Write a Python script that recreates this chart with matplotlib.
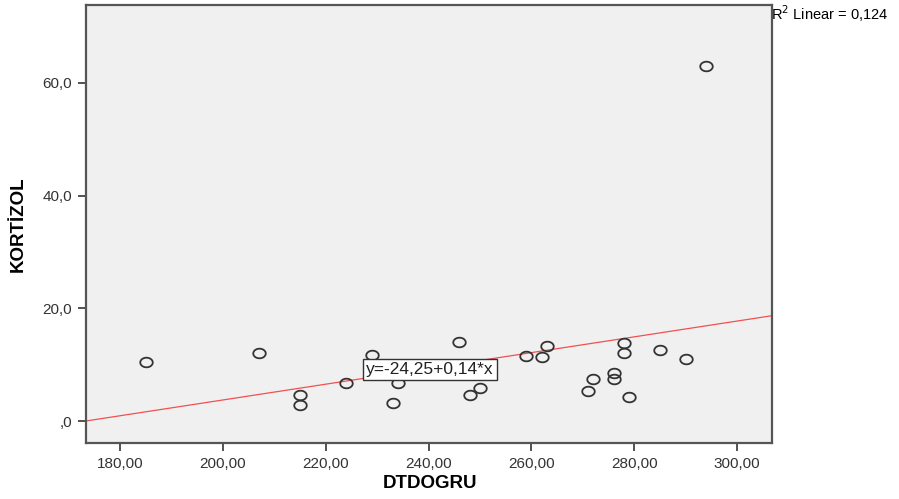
import numpy as np
import matplotlib.pyplot as plt
from matplotlib.path import Path
from matplotlib.ticker import FuncFormatter

plt.rcParams['font.family'] = ['Liberation Sans', 'DejaVu Sans']

# data
dtdogru = [185, 207, 215, 215, 224, 229, 233, 234, 243, 246, 248, 250, 259,
           262, 263, 271, 272, 276, 276, 278, 278, 279, 285, 290, 294]
kortizol = [10.5, 12.0, 4.6, 2.8, 6.8, 11.7, 3.3, 6.7, 8.6, 14.0, 4.7, 5.9, 11.5,
            11.3, 13.4, 5.4, 7.5, 8.5, 7.5, 13.9, 12.0, 4.3, 12.7, 11.0, 63.0]

intercept, slope = -24.25, 0.14
r2_text = "R$^2$ Linear = 0,124"
eq_text = "y=-24,25+0,14*x"
x_ticks = [180, 200, 220, 240, 260, 280, 300]
y_ticks = [0, 20, 40, 60]

# slightly flattened circle, like the SPSS marker
t = np.linspace(0, 2 * np.pi, 60)
ellipse = Path(np.column_stack([1.3 * np.cos(t), np.sin(t)]), closed=True)

fig = plt.figure(figsize=(8.99, 4.99), dpi=100)
ax = fig.add_axes([0.0957, 0.112, 0.7627, 0.878])
ax.set_facecolor('#f0f0f0')

ax.set_xlim(173.4, 306.7)
ax.set_ylim(-3.9, 73.8)

# fit line
xl = np.array(ax.get_xlim())
ax.plot(xl, intercept + slope * xl, color='#f05050', linewidth=0.9, zorder=2)

ax.plot(dtdogru, kortizol, linestyle='none', marker=ellipse, markersize=9,
        markerfacecolor='none', markeredgecolor='#333333', markeredgewidth=1.3,
        zorder=3)

ax.text(240.3, 9.2, eq_text, ha='center', va='center', fontsize=12.5, zorder=4,
        color='#222222',
        bbox=dict(boxstyle='square,pad=0.18', facecolor='white',
                  edgecolor='#333333', linewidth=1.0))

fig.text(0.858, 0.972, r2_text, ha='left', va='center', fontsize=10.5)

ax.set_xticks(x_ticks)
ax.set_yticks(y_ticks)
ax.xaxis.set_major_formatter(FuncFormatter(lambda v, p: f"{v:.2f}".replace('.', ',')))
ax.yaxis.set_major_formatter(FuncFormatter(
    lambda v, p: ',0' if v == 0 else f"{v:.1f}".replace('.', ',')))
ax.tick_params(direction='out', length=6, width=1.3, color='#444444',
               labelsize=11, labelcolor='#333333', pad=4)

for s in ax.spines.values():
    s.set_color('#555555')
    s.set_linewidth(1.6)

fig.text(430 / 899, 1 - 483 / 499, 'DTDOGRU', ha='center', va='center',
         fontsize=13.5, fontweight='bold')
fig.text(18 / 899, 1 - 224 / 499, 'KORTİZOL', ha='center', va='center',
         rotation=90, fontsize=13.5, fontweight='bold')

plt.savefig('out.png', dpi=100)
